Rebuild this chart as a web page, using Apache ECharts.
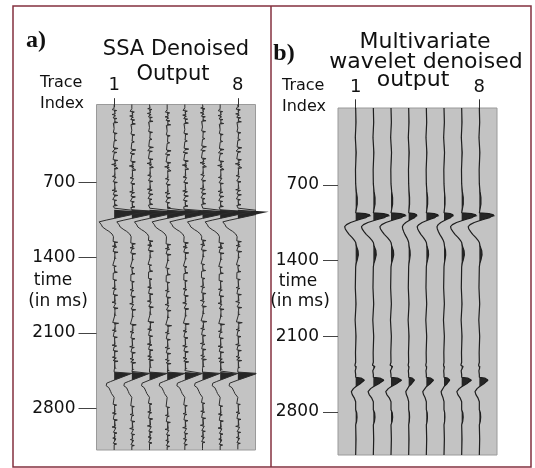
<!DOCTYPE html>
<html>
<head>
<meta charset="utf-8">
<script src="https://cdn.jsdelivr.net/npm/echarts@6.0.0/dist/echarts.min.js"></script>
<style>
html, body { margin: 0; background: #fff; }
#main { width: 535px; height: 468px; }
</style>
</head>
<body>
<div id="main"></div>
<script>
// trace numbers and tick values
const traceIds = [1, 2, 3, 4, 5, 6, 7, 8]
const traceTicks = [1, 8]
const timeTicks = [700, 1400, 2100, 2800]

// a) SSA denoised: background wiggles [time ms, amplitude in trace spacings]
const noiseA = [
    [0, 0], [18, 0.03], [24, -0.1], [31, 0.14], [38, 0.02], [45, 0.08], [52, -0.02],
    [62, 0.06], [68, -0.12], [74, 0.05], [82, 0.12], [90, 0],
    [100, -0.06], [105, 0.16], [112, 0.03], [120, -0.04],
    [136, 0.05], [142, 0.2], [148, -0.05], [156, 0.02],
    [200, 0], [236, -0.05], [244, 0.17], [250, 0.04], [258, -0.03],
    [300, 0.02], [305, -0.08], [309, 0.14], [316, 0],
    [376, -0.04], [384, 0.22], [390, 0.05], [398, -0.02],
    [414, -0.1], [421, 0.16], [428, 0],
    [488, -0.06], [495, 0.2], [502, 0.04], [510, -0.02],
    [526, 0.08], [533, -0.14], [540, 0.12], [548, 0],
    [563, -0.05], [570, 0.22], [577, 0.03], [585, -0.02],
    [636, 0.05], [644, -0.1], [650, 0.1], [658, 0],
    [693, -0.06], [700, 0.18], [707, 0.02], [715, -0.02],
    [766, 0.06], [774, -0.12], [781, 0.15], [790, 0],
    [814, -0.05], [821, 0.2], [828, 0.03],
    [860, -0.08], [867, 0.14], [874, 0.02],
    [906, 0.04], [914, 0.18], [921, -0.06], [930, 0],
    [1250, -0.06], [1257, 0.2], [1264, 0.02],
    [1288, 0.08], [1294, -0.1], [1300, 0.14], [1308, 0],
    [1343, -0.06], [1350, 0.22], [1357, 0.03], [1365, -0.02],
    [1400, 0.05], [1406, 0.15], [1413, -0.04],
    [1473, -0.08], [1480, 0.12], [1487, 0],
    [1530, 0.04], [1536, 0.18], [1543, -0.05], [1550, 0],
    [1603, -0.06], [1610, 0.14], [1617, 0.02],
    [1678, 0.05], [1685, -0.1], [1692, 0.12], [1700, 0],
    [1743, -0.05], [1750, 0.2], [1757, 0.03],
    [1808, 0.06], [1815, -0.12], [1822, 0.1], [1830, 0],
    [1864, -0.04], [1871, 0.22], [1878, 0.04], [1886, -0.03],
    [1929, 0.05], [1936, 0.16], [1943, -0.04],
    [2004, -0.08], [2011, 0.25], [2018, 0.05], [2026, -0.02],
    [2069, 0.06], [2076, -0.1], [2083, 0.12], [2090, 0],
    [2134, -0.05], [2141, 0.18], [2148, 0.02],
    [2208, 0.05], [2215, -0.12], [2222, 0.14], [2230, 0],
    [2264, -0.05], [2271, 0.2], [2278, 0.03],
    [2320, 0.04], [2327, -0.1], [2334, 0.12],
    [2357, -0.06], [2364, 0.22], [2371, 0.03],
    [2422, 0.05], [2429, 0.16], [2436, -0.04], [2445, 0],
    [2765, -0.06], [2772, 0.14], [2779, 0.02],
    [2839, 0.05], [2846, -0.1], [2853, 0.12], [2860, 0],
    [2904, -0.05], [2911, 0.18], [2918, 0.03],
    [2969, 0.06], [2976, -0.12], [2983, 0.1], [2990, 0],
    [3025, -0.04], [3032, 0.16], [3039, 0.02],
    [3072, 0.05], [3079, -0.08], [3086, 0.1],
    [3127, -0.05], [3134, 0.14], [3141, 0], [3190, 0],
]
const noiseShiftA = [0, 14, -10, 22, 6, -16, 10, -6]
const eventTimesA = [955, 2465]
// [ms after event, amplitude]
const waveletA1 = [
    [-15, 0.02], [-6, -0.05], [0, 0], [18, 1.75], [80, 0], [96, -0.45], [112, -0.85],
    [125, -0.8], [140, -0.72], [150, -0.62], [160, -0.66], [172, -0.55], [185, -0.45],
    [200, -0.3], [212, -0.24], [225, -0.12], [238, -0.09], [250, -0.04], [265, 0],
]
const waveletA2 = [
    [0, 0], [12, 1.0], [75, 0], [88, -0.2], [103, -0.42], [115, -0.36], [128, -0.45],
    [145, -0.3], [160, -0.33], [180, -0.2], [200, -0.15], [215, -0.06], [235, 0],
]
const gainA1 = [1, 1, 1, 1, 1, 1, 1, 1]
const gainA2 = [1, 1, 1, 1, 1, 1, 1, 1.1]

// b) multivariate wavelet denoised
const noiseB = [
    [0, 0], [120, 0.02], [260, -0.02], [400, 0.03], [560, -0.01], [690, 0],
    [1470, 0], [1650, -0.02], [1800, 0.02], [1950, -0.03], [2100, 0.02], [2250, -0.01], [2340, 0],
    [2930, 0], [3050, 0.02], [3198, 0],
]
const noiseShiftB = [0, 0, 0, 0, 0, 0, 0, 0]
const eventTimesB = [957, 2479]
const waveletB1 = [
    [-260, 0], [-200, 0.04], [-140, 0.1], [-80, 0.1], [-30, 0.04], [0, 0],
    [8, 0.6], [20, 0.9], [30, 1.0], [45, 0.65], [60, 0.3], [74, 0],
    [90, -0.32], [110, -0.58], [129, -0.7], [150, -0.66], [175, -0.55], [200, -0.42],
    [230, -0.22], [255, -0.08], [275, 0], [310, 0.05], [350, 0.15], [390, 0.17],
    [430, 0.11], [470, 0.03], [500, 0],
]
const waveletB2 = [
    [-130, 0], [-112, -0.08], [-100, 0.14], [-88, 0.04], [-60, -0.05], [-25, 0], [0, 0],
    [8, 0.6], [25, 0.95], [31, 1.0], [60, 0.5], [87, 0], [105, -0.25], [133, -0.48],
    [160, -0.38], [190, -0.16], [226, 0], [300, 0], [330, 0.12], [370, 0.15], [410, 0.1], [440, 0],
]
const gainB1 = [0.89, 0.96, 0.9, 0.51, 0.74, 0.57, 0.9, 0.9]
const gainB2 = [0.51, 0.62, 0.62, 0.34, 0.42, 0.34, 0.57, 0.51]

const myChart = echarts.init(document.getElementById('main'))

function buildTrace(noise, shift, events, tMin, tMax) {
    let pts = [[tMin, 0]]
    noise.forEach(p => {
        let t = p[0] + shift
        let inEvent = events.some(e => t >= e.t0 + e.shape[0][0] && t <= e.t0 + e.shape[e.shape.length - 1][0])
        if (!inEvent && t > tMin && t < tMax) pts.push([t, p[1]])
    })
    events.forEach(e => e.shape.forEach(p => pts.push([e.t0 + p[0], e.gain * p[1]])))
    pts.push([tMax, 0])
    pts.sort((a, b) => a[0] - b[0])
    return pts
}

const panels = [
    {
        min: -25, max: 3190,
        grid: { left: 96.5, top: 104.5, width: 159, height: 345.5 },
        tickLen: 18, labelMargin: 21, xTickLen: 9, xMargin: 10,
        lineColor: '#2e2e2e', lineWidth: 1,
        traces: traceIds.map((k, i) => buildTrace(noiseA, noiseShiftA[i], [
            { t0: eventTimesA[0], shape: waveletA1, gain: gainA1[i] },
            { t0: eventTimesA[1], shape: waveletA2, gain: gainA2[i] },
        ], -25, 3190)),
    },
    {
        min: -12, max: 3198,
        grid: { left: 338, top: 108, width: 159, height: 347 },
        tickLen: 15, labelMargin: 19, xTickLen: 10, xMargin: 12,
        lineColor: '#1e1e1e', lineWidth: 1.2,
        traces: traceIds.map((k, i) => buildTrace(noiseB, noiseShiftB[i], [
            { t0: eventTimesB[0], shape: waveletB1, gain: gainB1[i] },
            { t0: eventTimesB[1], shape: waveletB2, gain: gainB2[i] },
        ], -12, 3198)),
    },
]

const labelFont = { fontFamily: 'DejaVu Sans', fontSize: 17, color: '#111' }

let series = []
panels.forEach((p, pi) => {
    // filled positive lobes (variable area)
    series.push({
        type: 'custom',
        xAxisIndex: pi,
        yAxisIndex: pi,
        clip: false,
        silent: true,
        z: 2,
        data: traceIds.map(k => [k, 0]),
        renderItem(params, api) {
            let k = traceIds[params.dataIndex]
            let pts = p.traces[params.dataIndex]
            let poly = [api.coord([k, pts[0][0]])]
            for (let i = 0; i < pts.length; i++) {
                let t = pts[i][0], a = pts[i][1]
                if (i > 0) {
                    let t0 = pts[i - 1][0], a0 = pts[i - 1][1]
                    if ((a0 > 0) !== (a > 0) && a0 !== a) {
                        let tc = t0 + (t - t0) * (0 - a0) / (a - a0)
                        poly.push(api.coord([k, tc]))
                    }
                }
                poly.push(api.coord([k + Math.max(a, 0), t]))
            }
            poly.push(api.coord([k, pts[pts.length - 1][0]]))
            return { type: 'polygon', shape: { points: poly }, style: { fill: '#262626' } }
        },
    })
    // trace wiggles
    traceIds.forEach((k, i) => {
        series.push({
            type: 'line',
            xAxisIndex: pi,
            yAxisIndex: pi,
            clip: false,
            silent: true,
            z: 3,
            symbol: 'none',
            lineStyle: { color: p.lineColor, width: p.lineWidth },
            data: p.traces[i].map(q => [k + q[1], q[0]]),
        })
    })
})

const textStyle = (font, align) => ({ font: font, fill: '#111', textAlign: align || 'center', textVerticalAlign: 'middle' })
const titleFont = '21px "DejaVu Sans"'
const smallFont = '16px "DejaVu Sans"'
const tickFont = '17px "DejaVu Sans"'
const letterFont = 'bold 24px "Liberation Serif"'

let option = {
    animation: false,
    backgroundColor: '#fff',
    grid: panels.map(p => Object.assign({
        show: true,
        backgroundColor: '#c3c3c3',
        borderColor: '#9a9a9a',
        borderWidth: 1,
    }, p.grid)),
    xAxis: panels.map((p, pi) => ({
        type: 'value',
        gridIndex: pi,
        position: 'top',
        min: 0,
        max: 9,
        axisLine: { show: false },
        splitLine: { show: false },
        axisTick: { show: true, customValues: traceTicks, length: p.xTickLen, lineStyle: { color: '#333' } },
        axisLabel: Object.assign({ customValues: traceTicks, margin: p.xMargin, formatter: v => String(v) }, labelFont, { fontSize: 18 }),
    })),
    yAxis: panels.map((p, pi) => ({
        type: 'value',
        gridIndex: pi,
        inverse: true,
        min: p.min,
        max: p.max,
        axisLine: { show: false },
        splitLine: { show: false },
        axisTick: { show: true, customValues: timeTicks, length: p.tickLen, lineStyle: { color: '#444' } },
        axisLabel: Object.assign({ customValues: timeTicks, margin: p.labelMargin, formatter: v => String(v) }, labelFont),
    })),
    graphic: [
        { type: 'rect', shape: { x: 13, y: 6, width: 518, height: 461 }, style: { fill: 'none', stroke: '#84303f', lineWidth: 1.5 } },
        { type: 'line', shape: { x1: 271, y1: 6, x2: 271, y2: 467 }, style: { stroke: '#84303f', lineWidth: 1.5 } },
        // panel a
        { type: 'text', x: 36, y: 41, style: Object.assign(textStyle(letterFont), { text: 'a)' }) },
        { type: 'text', x: 176, y: 50, style: Object.assign(textStyle(titleFont), { text: 'SSA Denoised' }) },
        { type: 'text', x: 173, y: 75, style: Object.assign(textStyle(titleFont), { text: 'Output' }) },
        { type: 'text', x: 40, y: 83, style: Object.assign(textStyle(smallFont, 'left'), { text: 'Trace' }) },
        { type: 'text', x: 40, y: 104, style: Object.assign(textStyle(smallFont, 'left'), { text: 'Index' }) },
        { type: 'text', x: 53, y: 281, style: Object.assign(textStyle(tickFont), { text: 'time' }) },
        { type: 'text', x: 58, y: 302, style: Object.assign(textStyle(tickFont), { text: '(in ms)' }) },
        // panel b
        { type: 'text', x: 284, y: 54, style: Object.assign(textStyle(letterFont), { text: 'b)' }) },
        { type: 'text', x: 425, y: 42, style: Object.assign(textStyle('22px "DejaVu Sans"'), { text: 'Multivariate' }) },
        { type: 'text', x: 426, y: 62, style: Object.assign(textStyle('22px "DejaVu Sans"'), { text: 'wavelet denoised' }) },
        { type: 'text', x: 413, y: 80, style: Object.assign(textStyle('22px "DejaVu Sans"'), { text: 'output' }) },
        { type: 'text', x: 282, y: 86, style: Object.assign(textStyle(smallFont, 'left'), { text: 'Trace' }) },
        { type: 'text', x: 282, y: 107, style: Object.assign(textStyle(smallFont, 'left'), { text: 'Index' }) },
        { type: 'text', x: 298, y: 282, style: Object.assign(textStyle(tickFont), { text: 'time' }) },
        { type: 'text', x: 300, y: 302, style: Object.assign(textStyle(tickFont), { text: '(in ms)' }) },
    ],
    series: series,
}
myChart.setOption(option)
</script>
</body>
</html>
